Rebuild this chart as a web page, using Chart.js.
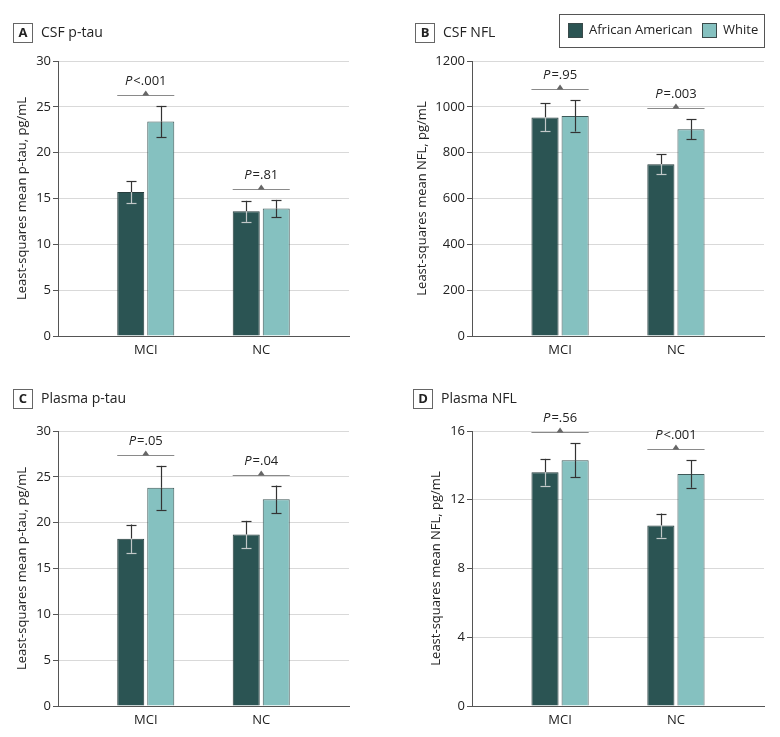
<!DOCTYPE html>
<html>
<head>
<meta charset="utf-8">
<script src="https://cdn.jsdelivr.net/npm/chart.js@4.4.1/dist/chart.umd.min.js"></script>
<style>
  body { margin: 0; background: #fff; }
  #wrap { position: relative; width: 780px; height: 737px; overflow: hidden; }
  #wrap canvas { position: absolute; }
</style>
</head>
<body>
<div id="wrap">
  <canvas id="panelA" width="390" height="370" style="left:0;top:0"></canvas>
  <canvas id="panelB" width="390" height="370" style="left:390px;top:0"></canvas>
  <canvas id="panelC" width="390" height="367" style="left:0;top:370px"></canvas>
  <canvas id="panelD" width="390" height="367" style="left:390px;top:370px"></canvas>
</div>
<script>
// categories and series
const groups = ['MCI', 'NC'];
const seriesNames = ['African American', 'White'];

// A: CSF p-tau
const csfPtauAA = [15.7, 13.6];
const csfPtauAAErr = [1.2, 1.15];
const csfPtauWhite = [23.4, 13.9];
const csfPtauWhiteErr = [1.7, 0.95];
const csfPtauP = ['<.001', '=.81'];
const csfPtauTicks = [0, 5, 10, 15, 20, 25, 30];

// B: CSF NFL
const csfNflAA = [954, 750];
const csfNflAAErr = [61, 43];
const csfNflWhite = [960, 902];
const csfNflWhiteErr = [68, 44];
const csfNflP = ['=.95', '=.003'];
const csfNflTicks = [0, 200, 400, 600, 800, 1000, 1200];

// C: Plasma p-tau
const plasmaPtauAA = [18.25, 18.7];
const plasmaPtauAAErr = [1.55, 1.5];
const plasmaPtauWhite = [23.8, 22.55];
const plasmaPtauWhiteErr = [2.4, 1.5];
const plasmaPtauP = ['=.05', '=.04'];
const plasmaPtauTicks = [0, 5, 10, 15, 20, 25, 30];

// D: Plasma NFL
const plasmaNflAA = [13.6, 10.5];
const plasmaNflAAErr = [0.78, 0.7];
const plasmaNflWhite = [14.3, 13.5];
const plasmaNflWhiteErr = [0.98, 0.8];
const plasmaNflP = ['=.56', '<.001'];
const plasmaNflTicks = [0, 4, 8, 12, 16];

const FONT = '"Open Sans", sans-serif';
const DARK = '#2b5453';
const LIGHT = '#85c1c0';
const INK = '#222';

Chart.defaults.font.family = FONT;
Chart.defaults.font.size = 13;
Chart.defaults.color = INK;

// error bars, p-value brackets, panel letter/title and legend
function panelPlugin(cfg) {
  return {
    id: 'panelExtras',
    afterDatasetsDraw(chart) {
      const ctx = chart.ctx;
      const y = chart.scales.y;
      const errs = [cfg.aaErr, cfg.wErr];
      const vline = (x, y0, y1, color) => {
        ctx.strokeStyle = color;
        ctx.beginPath(); ctx.moveTo(x, y0); ctx.lineTo(x, y1); ctx.stroke();
      };
      const cap = (x, yy, color) => {
        ctx.strokeStyle = color;
        ctx.beginPath(); ctx.moveTo(x - 5, Math.round(yy) + 0.5); ctx.lineTo(x + 5, Math.round(yy) + 0.5); ctx.stroke();
      };
      ctx.save();
      ctx.lineWidth = 1.2;
      chart.data.datasets.forEach((ds, d) => {
        chart.getDatasetMeta(d).data.forEach((bar, i) => {
          const v = ds.data[i].y, e = errs[d][i];
          const top = y.getPixelForValue(v + e), bot = y.getPixelForValue(v - e);
          const x = Math.round(bar.x) + 0.5;
          const inner = d === 0 ? '#c2c8c8' : '#333';
          vline(x, top, bar.y, '#333');
          cap(x, top, '#333');
          vline(x, bar.y, bot, inner);
          cap(x, bot, inner);
        });
      });

      // brackets with p values
      const m0 = chart.getDatasetMeta(0), m1 = chart.getDatasetMeta(1);
      groups.forEach((g, i) => {
        const b0 = m0.data[i], b1 = m1.data[i];
        const x0 = b0.x - b0.width / 2, x1 = b1.x + b1.width / 2;
        const topErr = Math.min(y.getPixelForValue(cfg.aa[i] + cfg.aaErr[i]),
                                y.getPixelForValue(cfg.w[i] + cfg.wErr[i]));
        const ly = Math.round(topErr - 11) + 0.5;
        const cx = (x0 + x1) / 2;
        ctx.strokeStyle = '#8a8a8a';
        ctx.lineWidth = 1;
        ctx.beginPath(); ctx.moveTo(x0, ly); ctx.lineTo(x1, ly); ctx.stroke();
        ctx.fillStyle = '#666';
        ctx.beginPath();
        ctx.moveTo(cx - 3.5, ly); ctx.lineTo(cx + 3.5, ly); ctx.lineTo(cx, ly - 5);
        ctx.closePath(); ctx.fill();

        const rest = cfg.p[i];
        ctx.font = 'italic 13px ' + FONT;
        const wP = ctx.measureText('P').width + 1;
        ctx.font = '13px ' + FONT;
        const wR = ctx.measureText(rest).width;
        const sx = cx - (wP + wR) / 2;
        ctx.fillStyle = INK;
        ctx.textBaseline = 'middle';
        ctx.textAlign = 'left';
        ctx.font = 'italic 13px ' + FONT;
        ctx.fillText('P', sx, ly - 14);
        ctx.font = '13px ' + FONT;
        ctx.fillText(rest, sx + wP, ly - 14);
      });
      ctx.restore();
    },
    afterDraw(chart) {
      const ctx = chart.ctx;
      ctx.save();
      // panel letter box and title
      ctx.strokeStyle = '#666';
      ctx.lineWidth = 1;
      ctx.strokeRect(cfg.boxX + 0.5, cfg.titleY - 9.5, 19, 19);
      ctx.fillStyle = INK;
      ctx.textBaseline = 'middle';
      ctx.textAlign = 'center';
      ctx.font = 'bold 13px ' + FONT;
      ctx.fillText(cfg.letter, cfg.boxX + 10, cfg.titleY + 0.5);
      ctx.textAlign = 'left';
      ctx.font = '14px ' + FONT;
      ctx.fillText(cfg.title, cfg.boxX + 28, cfg.titleY);

      if (cfg.legend) {
        ctx.strokeStyle = '#555';
        ctx.strokeRect(169.5, 14.5, 205, 33);
        const items = [178, 312];
        ctx.font = '13px ' + FONT;
        chart.data.datasets.forEach((ds, d) => {
          const lx = items[d];
          ctx.fillStyle = ds.backgroundColor;
          ctx.fillRect(lx, 23, 15, 15);
          ctx.strokeStyle = '#3a4a4a';
          ctx.strokeRect(lx + 0.5, 23.5, 14, 14);
          ctx.fillStyle = INK;
          ctx.fillText(ds.label, lx + 21, 30.5);
        });
      }
      ctx.restore();
    }
  };
}

function makePanel(id, cfg) {
  const canvas = document.getElementById(id);
  const toPoints = vals => vals.map((v, i) => ({ x: i, y: v }));
  const yMax = cfg.ticks[cfg.ticks.length - 1];
  return new Chart(canvas, {
    type: 'bar',
    data: {
      datasets: [
        { label: seriesNames[0], data: toPoints(cfg.aa), backgroundColor: DARK, borderColor: '#263c3c', borderWidth: 1 },
        { label: seriesNames[1], data: toPoints(cfg.w), backgroundColor: LIGHT, borderColor: '#3e5858', borderWidth: 1 }
      ]
    },
    options: {
      responsive: false,
      animation: false,
      events: [],
      devicePixelRatio: 1,
      layout: { padding: { left: cfg.padLeft, right: cfg.padRight, top: 61, bottom: canvas.height - 336 - 30 } },
      datasets: { bar: { categoryPercentage: 0.52, barPercentage: 0.9 } },
      plugins: { legend: { display: false }, tooltip: { enabled: false } },
      scales: {
        x: {
          type: 'linear',
          offset: false,
          bounds: 'data',
          min: -0.76,
          max: 1.76,
          afterBuildTicks: scale => { scale.ticks = groups.map((g, i) => ({ value: i })); },
          afterFit: scale => { scale.height = 30; },
          ticks: { callback: v => groups[v], padding: 6, color: INK, maxRotation: 0 },
          grid: { display: false, drawTicks: false, offset: false },
          border: { display: true, color: '#555', width: 1 }
        },
        y: {
          min: 0,
          max: yMax,
          afterBuildTicks: scale => { scale.ticks = cfg.ticks.map(v => ({ value: v })); },
          afterFit: scale => { scale.width = cfg.yWidth; },
          ticks: { callback: v => String(v), padding: 2, color: INK },
          grid: { color: '#d9d9d9', tickColor: '#555', tickLength: 5, lineWidth: 1 },
          border: { display: true, color: '#555', width: 1 },
          title: { display: true, text: cfg.yTitle, padding: 0, color: INK, font: { size: 13 } }
        }
      }
    },
    plugins: [panelPlugin(cfg)]
  });
}

makePanel('panelA', {
  letter: 'A', title: 'CSF p-tau', yTitle: 'Least-squares mean p-tau, pg/mL',
  aa: csfPtauAA, aaErr: csfPtauAAErr, w: csfPtauWhite, wErr: csfPtauWhiteErr, p: csfPtauP, ticks: csfPtauTicks,
  padLeft: 14, yWidth: 44, padRight: 41, boxX: 13, titleY: 33, legend: false
});
makePanel('panelB', {
  letter: 'B', title: 'CSF NFL', yTitle: 'Least-squares mean NFL, pg/mL',
  aa: csfNflAA, aaErr: csfNflAAErr, w: csfNflWhite, wErr: csfNflWhiteErr, p: csfNflP, ticks: csfNflTicks,
  padLeft: 24, yWidth: 58, padRight: 16, boxX: 25, titleY: 33, legend: true
});
makePanel('panelC', {
  letter: 'C', title: 'Plasma p-tau', yTitle: 'Least-squares mean p-tau, pg/mL',
  aa: plasmaPtauAA, aaErr: plasmaPtauAAErr, w: plasmaPtauWhite, wErr: plasmaPtauWhiteErr, p: plasmaPtauP, ticks: plasmaPtauTicks,
  padLeft: 14, yWidth: 44, padRight: 41, boxX: 13, titleY: 29, legend: false
});
makePanel('panelD', {
  letter: 'D', title: 'Plasma NFL', yTitle: 'Least-squares mean NFL, pg/mL',
  aa: plasmaNflAA, aaErr: plasmaNflAAErr, w: plasmaNflWhite, wErr: plasmaNflWhiteErr, p: plasmaNflP, ticks: plasmaNflTicks,
  padLeft: 38, yWidth: 44, padRight: 16, boxX: 23, titleY: 29, legend: false
});
</script>
</body>
</html>
